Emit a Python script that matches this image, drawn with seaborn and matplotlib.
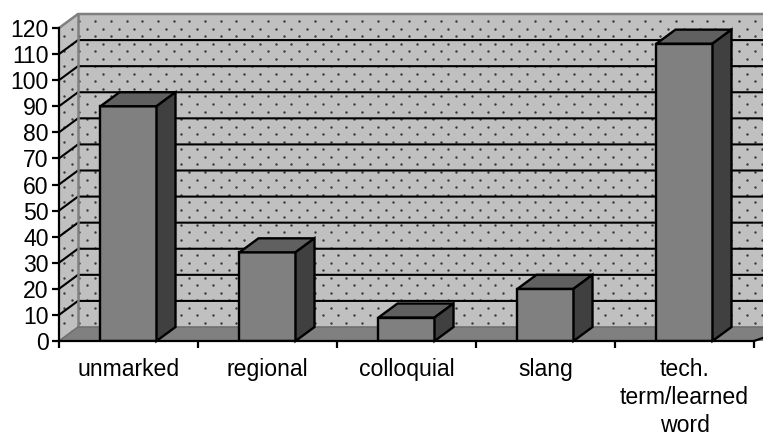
import numpy as np
import pandas as pd
import matplotlib
matplotlib.use("Agg")
import matplotlib.pyplot as plt
from matplotlib.patches import Polygon
import seaborn as sns

categories = ["unmarked", "regional", "colloquial", "slang", "tech.\nterm/learned\nword"]
values = [90, 34, 9, 20, 114]
y_ticks = list(range(0, 130, 10))

sns.set_theme(style="white")
plt.rcParams["font.family"] = ["Liberation Sans", "DejaVu Sans"]

W, H = 763, 434
fig = plt.figure(figsize=(W / 100, H / 100), dpi=100)
# front plane of the fake 3d box, in pixels: x 59..754, y 341..28
ax = fig.add_axes([59 / W, 1 - 341 / H, 695 / W, 313 / H])

df = pd.DataFrame({"category": categories, "value": values})
sns.barplot(data=df, x="category", y="value", color="#808080", saturation=1, width=0.403,
            edgecolor="black", linewidth=1.7, zorder=5, ax=ax)
ax.set_xlim(-0.5, 4.5)
ax.set_ylim(0, 120)

# depth of the box in data units
dx = 19 / 139
dy = 14 / (313 / 120)
x0, x1 = -0.5, 4.5 + dx
wall_c, floor_c = "#c0c0c0", "#808080"

back = Polygon([(x0 + dx, dy), (x1, dy), (x1, 120 + dy), (x0 + dx, 120 + dy)], fc=wall_c, ec="none",
               zorder=1, clip_on=False)
side = Polygon([(x0, 0), (x0 + dx, dy), (x0 + dx, 120 + dy), (x0, 120)], fc=wall_c, ec="none",
               zorder=1, clip_on=False)
floor = Polygon([(x0, 0), (x0 + dx, dy), (x1, dy), (x1, 0)], fc=floor_c, ec="none", zorder=1, clip_on=False)
ax.add_patch(back)
ax.add_patch(side)
ax.add_patch(floor)

# stipple on the walls
gx, gy = np.meshgrid(np.arange(0, 50), np.arange(0, 44))
px = 63.7 + gx * 15.7 + (gy % 2) * 7.85
py = 21 + gy * 7.55
dots_x = (x0 + (px - 59) / 139).ravel()
dots_y = ((341 - py) * 120 / 313).ravel()
for wall in (back, side):
    dots = ax.scatter(dots_x, dots_y, s=3, color="#383838", linewidths=0, zorder=1.5, clip_on=True)
    dots.set_clip_path(wall)

# grid lines on the walls
for t in y_ticks[1:-1]:
    ax.plot([x0, x0 + dx, x1], [t, t + dy, t + dy], color="black", lw=1.5, zorder=2, clip_on=False,
            solid_capstyle="butt")

# grey box edges
ax.plot([x0, x0 + dx, x1], [120, 120 + dy, 120 + dy], color="#808080", lw=1.8, zorder=2, clip_on=False)
ax.plot([x0 + dx, x0 + dx], [dy, 120 + dy], color="#808080", lw=1.8, zorder=2, clip_on=False)
ax.plot([x0, x0 + dx, x1], [0, dy, dy], color="#707070", lw=1.2, zorder=2, clip_on=False)

# top and side faces of the bars
for bar in ax.patches[:len(values)]:
    l, w, h = bar.get_x(), bar.get_width(), bar.get_height()
    r = l + w
    ax.add_patch(Polygon([(l, h), (l + dx, h + dy), (r + dx, h + dy), (r, h)], fc="#606060", ec="black",
                         lw=1.7, zorder=5, clip_on=False, joinstyle="miter"))
    ax.add_patch(Polygon([(r, 0), (r + dx, dy), (r + dx, h + dy), (r, h)], fc="#404040", ec="black",
                         lw=1.7, zorder=5, clip_on=False, joinstyle="miter"))

# front edge of the floor
ax.plot([4.5, x1], [0, dy * 9 / 19], color="black", lw=1.6, zorder=6, clip_on=False)

sns.despine(ax=ax, top=True, right=True)
for s in ("left", "bottom"):
    ax.spines[s].set_color("black")
    ax.spines[s].set_linewidth(1.6)
    ax.spines[s].set_zorder(6)

ax.set_xlim(-0.5, 4.5)
ax.set_ylim(0, 120)
ax.set_xlabel("")
ax.set_ylabel("")
ax.set_yticks(y_ticks)
ax.set_xticks(range(len(categories)), categories, linespacing=1.27)
ax.tick_params(axis="y", left=True, length=5, width=1.6, color="black", labelsize=16.6, pad=2.5,
               labelcolor="black")
# x ticks sit on the category boundaries
ax.tick_params(axis="x", bottom=False, labelsize=16.6, pad=6.5, labelcolor="black")
ax.set_xticks(np.arange(-0.5, 5.0, 1), minor=True)
ax.tick_params(axis="x", which="minor", bottom=True, length=5, width=1.6, color="black")

fig.savefig("out.png", dpi=100)
